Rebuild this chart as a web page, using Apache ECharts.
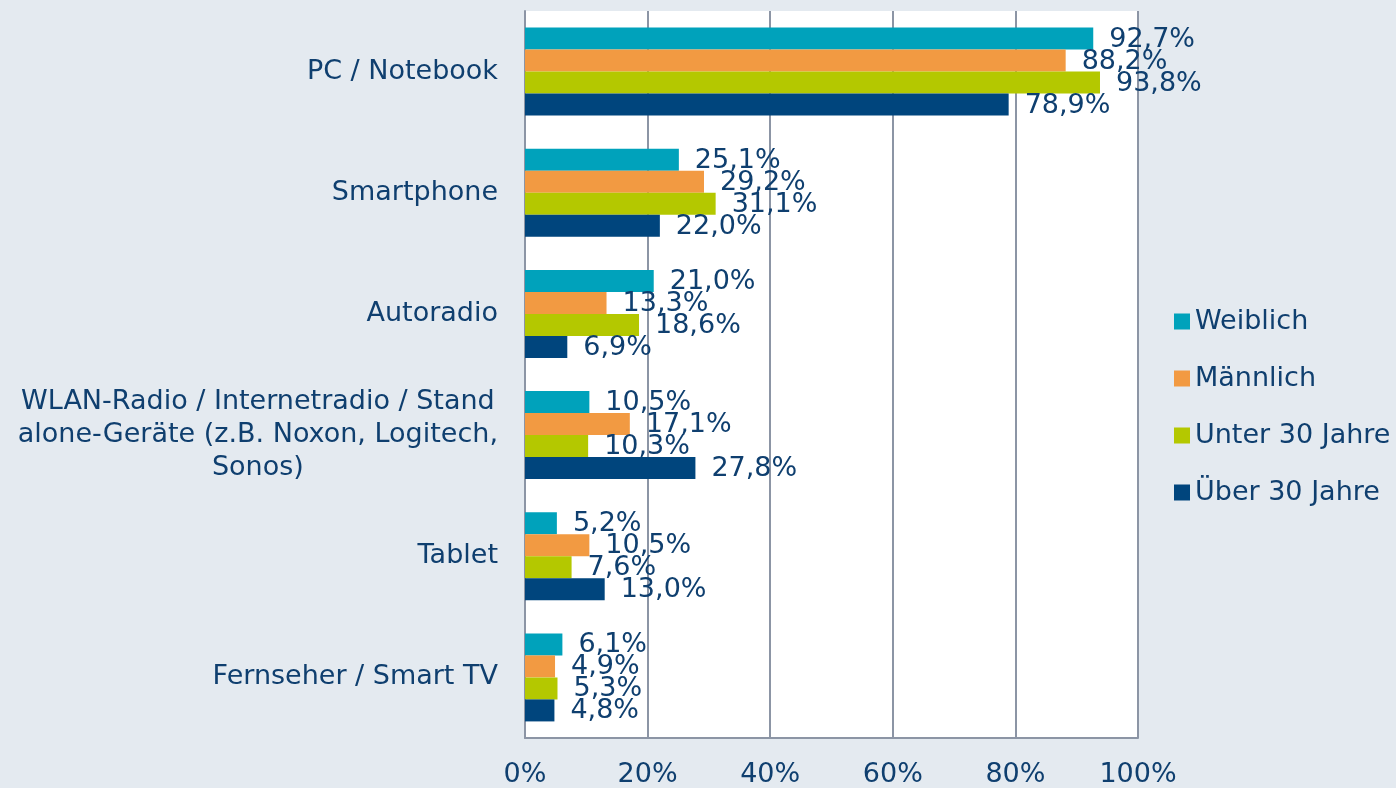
<!DOCTYPE html>
<html>
<head>
<meta charset="utf-8">
<script src="https://cdn.jsdelivr.net/npm/echarts@6/dist/echarts.min.js"></script>
<style>
  html, body { margin: 0; padding: 0; background: #E4EAF0; }
  #chart { width: 1396px; height: 788px; }
</style>
</head>
<body>
<div id="chart"></div>
<script>
const categories = [
  'PC / Notebook',
  'Smartphone',
  'Autoradio',
  'WLAN-Radio / Internetradio / Stand\nalone-Geräte (z.B. Noxon, Logitech,\nSonos)',
  'Tablet',
  'Fernseher / Smart TV',
]
const seriesNames = ['Weiblich', 'Männlich', 'Unter 30 Jahre', 'Über 30 Jahre']
const weiblich = [92.7, 25.1, 21.0, 10.5, 5.2, 6.1]
const maennlich = [88.2, 29.2, 13.3, 17.1, 10.5, 4.9]
const unter30 = [93.8, 31.1, 18.6, 10.3, 7.6, 5.3]
const ueber30 = [78.9, 22.0, 6.9, 27.8, 13.0, 4.8]
const xTicks = [0, 20, 40, 60, 80, 100]

const colors = ['#00A2BB', '#F29A42', '#B4C800', '#00457D']
const textColor = '#0F3F6F'
const gridColor = '#8C95A5'
const font = 'DejaVu Sans, Verdana, sans-serif'
const fs = 27

const chart = echarts.init(document.getElementById('chart'), null, { renderer: 'canvas' })

const fmt = v => v.toFixed(1).replace('.', ',') + '%'

const makeSeries = (name, data, i) => ({
  name,
  type: 'bar',
  data,
  barWidth: 22,
  barGap: '0%',
  itemStyle: { color: colors[i] },
  label: {
    show: true,
    position: 'right',
    distance: 16,
    offset: [0, 1],
    color: textColor,
    fontFamily: font,
    fontSize: fs,
    formatter: p => fmt(p.value),
  },
})

chart.setOption({
  backgroundColor: '#E4EAF0',
  animation: false,
  textStyle: { fontFamily: font },
  grid: { left: 525, right: 258, top: 11, bottom: 46, show: true, backgroundColor: '#FFFFFF', borderWidth: 0 },
  legend: {
    orient: 'vertical',
    left: 1174,
    top: 308,
    padding: 0,
    itemWidth: 16,
    itemHeight: 16,
    itemGap: 30,
    icon: 'rect',
    textStyle: { color: textColor, fontSize: fs, fontFamily: font },
    data: seriesNames,
  },
  xAxis: {
    type: 'value',
    min: 0,
    max: 100,
    interval: 20,
    axisLine: { show: true, lineStyle: { color: gridColor, width: 2 } },
    axisTick: { show: false },
    splitLine: { show: true, lineStyle: { color: gridColor, width: 2 } },
    axisLabel: {
      color: textColor,
      fontSize: fs,
      fontFamily: font,
      margin: 23,
      formatter: v => (xTicks.includes(v) ? v + '%' : ''),
    },
  },
  yAxis: {
    type: 'category',
    inverse: true,
    data: categories,
    axisLine: { show: true, lineStyle: { color: gridColor, width: 2 } },
    axisTick: { show: false },
    axisLabel: {
      margin: 27,
      color: textColor,
      fontSize: fs,
      fontFamily: font,
      lineHeight: 33,
      formatter: v => v.split('\n').map(l => '{c|' + l + '}').join('\n'),
      rich: {
        c: { align: 'center', color: textColor, fontSize: fs, fontFamily: font, lineHeight: 33 },
      },
    },
  },
  series: [
    makeSeries(seriesNames[0], weiblich, 0),
    makeSeries(seriesNames[1], maennlich, 1),
    makeSeries(seriesNames[2], unter30, 2),
    makeSeries(seriesNames[3], ueber30, 3),
  ],
})
</script>
</body>
</html>
